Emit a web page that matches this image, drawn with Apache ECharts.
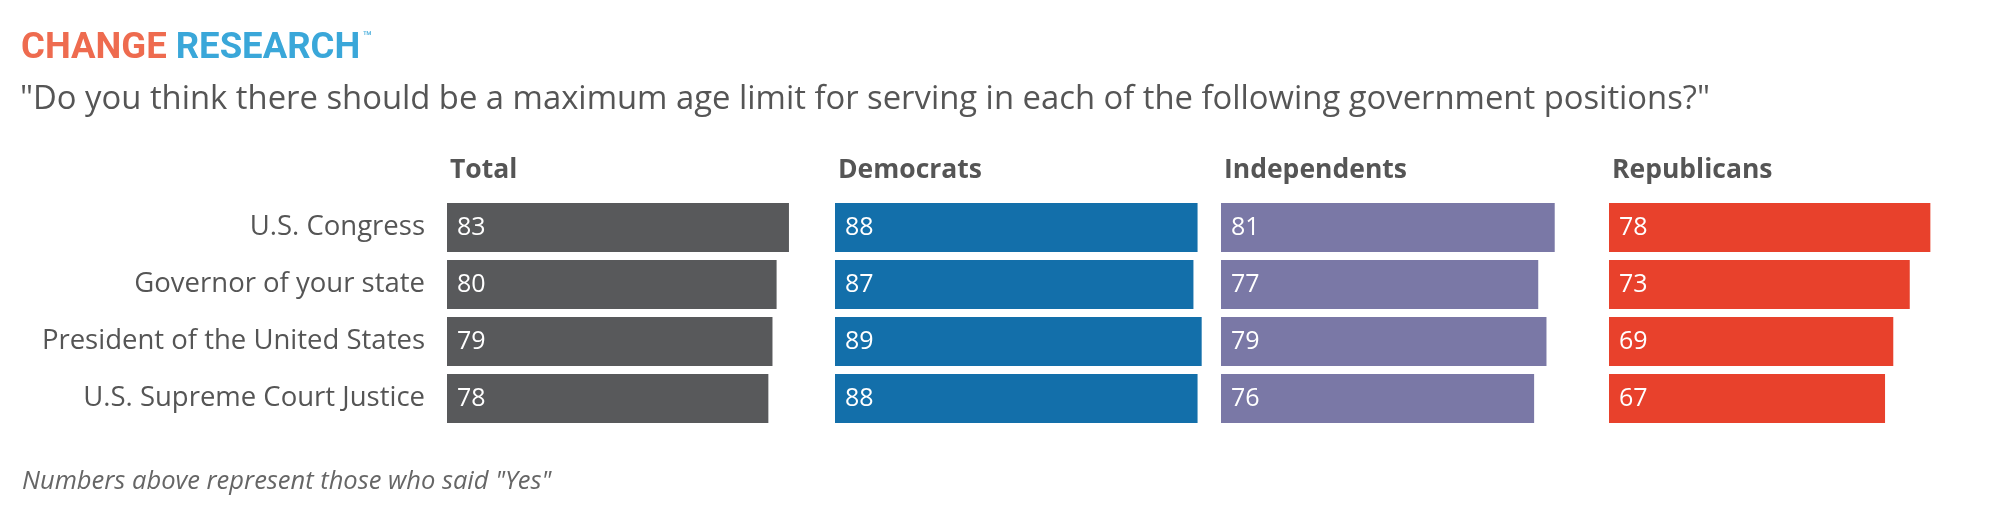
<!DOCTYPE html>
<html>
<head>
<meta charset="utf-8">
<script src="https://cdn.jsdelivr.net/npm/echarts@6/dist/echarts.min.js"></script>
<style>
html,body{margin:0;padding:0;background:#fff;}
#chart{width:1999px;height:518px;}
</style>
</head>
<body>
<div id="chart"></div>
<script>
const categories = ["U.S. Congress", "Governor of your state", "President of the United States", "U.S. Supreme Court Justice"];
const groupNames = ["Total", "Democrats", "Independents", "Republicans"];
const totalValues = [83, 80, 79, 78];
const democratValues = [88, 87, 89, 88];
const independentValues = [81, 77, 79, 76];
const republicanValues = [78, 73, 69, 67];
const titleText = '"Do you think there should be a maximum age limit for serving in each of the following government positions?"';
const footnoteText = 'Numbers above represent those who said "Yes"';

const groupValues = [totalValues, democratValues, independentValues, republicanValues];
const groupColors = ["#58595b", "#136faa", "#7a78a6", "#e8412c"];
const panelLefts = [447, 835, 1221, 1609];
const axisMax = 90;
const pxPerUnit = 4.12;
const gridTop = 199, gridHeight = 228;
const FONT = "'Open Sans', Lato, sans-serif";

const chart = echarts.init(document.getElementById('chart'), null, {renderer: 'canvas'});

const grids = [], xAxes = [], yAxes = [], series = [], titles = [];
groupNames.forEach((g, i) => {
  grids.push({left: panelLefts[i], top: gridTop, width: axisMax * pxPerUnit, height: gridHeight, containLabel: false});
  xAxes.push({type: 'value', gridIndex: i, min: 0, max: axisMax, show: false});
  yAxes.push({
    type: 'category', gridIndex: i, data: categories, inverse: true,
    axisLine: {show: false}, axisTick: {show: false}, splitLine: {show: false},
    axisLabel: {show: i === 0, margin: 22, fontSize: 27.5, color: '#555', fontFamily: FONT}
  });
  series.push({
    type: 'bar', name: g, xAxisIndex: i, yAxisIndex: i, data: groupValues[i],
    barWidth: 49, itemStyle: {color: groupColors[i]}, silent: true,
    label: {show: true, position: 'insideLeft', distance: 10, color: '#fff', fontSize: 25, fontFamily: FONT}
  });
  titles.push({text: g, left: panelLefts[i] - 2, top: 152, textStyle: {fontSize: 26.5, fontWeight: 'bold', color: '#555', fontFamily: FONT}});
});

const LOGO_FONT = "Roboto, 'Liberation Sans', sans-serif";
titles.push({
  text: '{a|CHANGE }{b|RESEARCH}{c|™}', left: 16, top: 25,
  textStyle: {rich: {
    a: {fontSize: 36.5, fontWeight: 'bold', color: '#ee6b4f', fontFamily: LOGO_FONT},
    b: {fontSize: 36.5, fontWeight: 'bold', color: '#3aa7d9', fontFamily: LOGO_FONT},
    c: {fontSize: 11, color: '#3aa7d9', verticalAlign: 'top', padding: [0, 0, 20, 3], fontFamily: FONT}
  }}
});
titles.push({text: titleText, left: 15, top: 78, textStyle: {fontSize: 32.8, fontWeight: 'normal', color: '#555', fontFamily: FONT}});
titles.push({text: footnoteText, left: 17, top: 464, textStyle: {fontSize: 25.5, fontWeight: 'normal', fontStyle: 'italic', color: '#666', fontFamily: FONT}});

chart.setOption({
  animation: false,
  backgroundColor: '#fff',
  title: titles,
  grid: grids,
  xAxis: xAxes,
  yAxis: yAxes,
  series: series
});
</script>
</body>
</html>
